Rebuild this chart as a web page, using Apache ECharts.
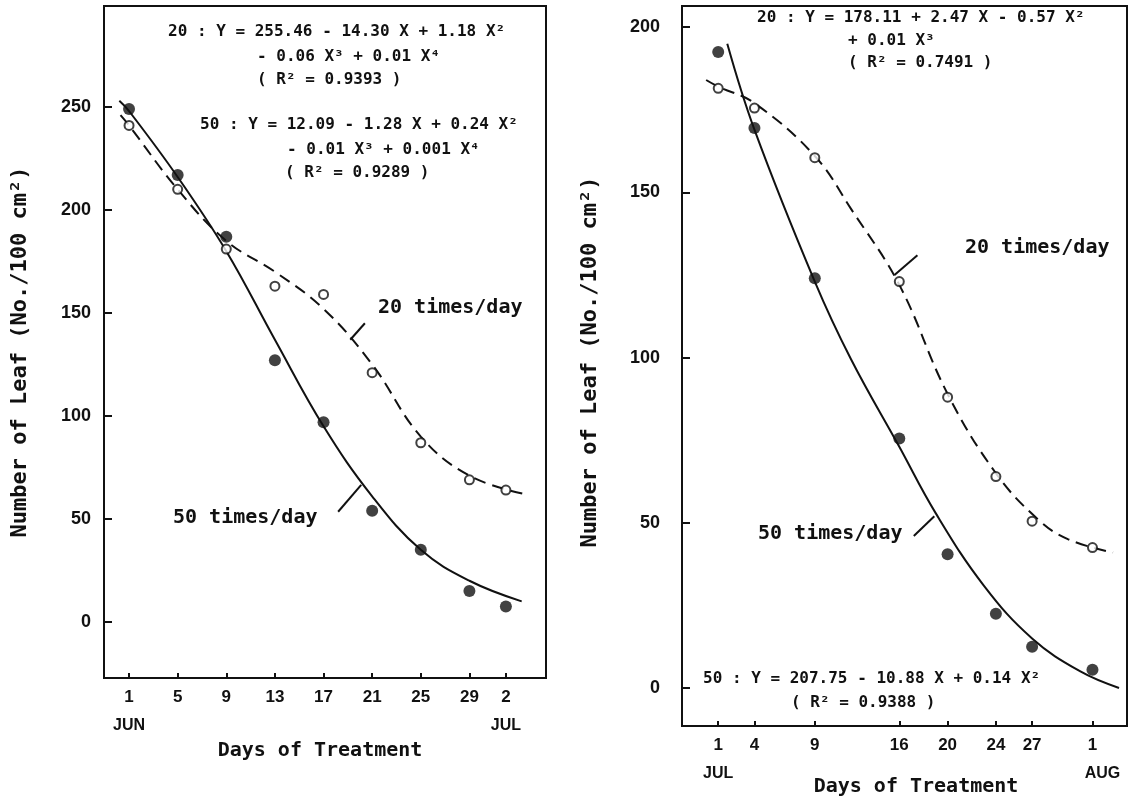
<!DOCTYPE html>
<html>
<head>
<meta charset="utf-8">
<script src="https://cdn.jsdelivr.net/npm/echarts@6/dist/echarts.min.js"></script>
<style>
  html, body { margin: 0; padding: 0; background: #fff; }
  #chart { width: 1135px; height: 799px; }
</style>
</head>
<body>
<div id="chart"></div>
<script>
// left panel: days counted from 1 JUN (0) to 2 JUL (31)
const leftDays = [0, 4, 8, 12, 16, 20, 24, 28, 31];
const left50 = [249, 217, 187, 127, 97, 54, 35, 15, 7.5];
const left20 = [241, 210, 181, 163, 159, 121, 87, 69, 64];
// fitted curves
const leftFit50 = [[-0.8, 253], [0, 248], [4, 216], [8, 180], [12, 137], [16, 95], [20, 61], [24, 35], [28, 20], [32.3, 10]];
const leftFit20 = [[-0.7, 246], [0, 241], [4, 210], [8, 185], [12, 170], [16, 152], [20, 125], [24, 90], [28, 71], [32.6, 62]];
const leftTickDays = [0, 4, 8, 12, 16, 20, 24, 28, 31];
const leftTickLabels = ['1', '5', '9', '13', '17', '21', '25', '29', '2'];
const leftYTicks = [0, 50, 100, 150, 200, 250];

// right panel: days counted from 1 JUL (0) to 1 AUG (31)
const rightDays = [0, 3, 8, 15, 19, 23, 26, 31];
const right50 = [192.5, 169.5, 124, 75.5, 40.5, 22.5, 12.5, 5.5];
const right20 = [181.5, 175.5, 160.5, 123, 88, 64, 50.5, 42.5];
const rightFit50 = [[0.75, 195], [3, 169], [8, 123], [11, 99.5], [15, 73], [18, 53], [22, 31], [26, 15], [30, 5], [33.2, 0]];
const rightFit20 = [[-1, 184], [0, 182], [3, 177], [8, 161], [11, 145], [15, 122], [19, 89], [23, 65], [26.5, 51], [29, 45], [32.7, 41]];
const rightTickDays = [0, 3, 8, 15, 19, 23, 26, 31];
const rightTickLabels = ['1', '4', '9', '16', '20', '24', '27', '1'];
const rightYTicks = [0, 50, 100, 150, 200];

// label pointer lines (data units)
const leftLead20 = [[19.4, 145], [18.2, 137]];
const leftLead50 = [[17.2, 53.5], [19.1, 66.5]];
const rightLead20 = [[16.5, 131], [14.6, 125]];
const rightLead50 = [[16.2, 46], [17.9, 52]];

const ink = '#111';
const mono = '"DejaVu Sans Mono", monospace';
const sans = '"Liberation Sans", Arial, sans-serif';

function pairs(xs, ys) {
  return xs.map((x, i) => [x, ys[i]]);
}

function xLabel(ticks, labels, months) {
  return function (v) {
    const i = ticks.indexOf(v);
    if (i < 0) return '';
    const m = months[v];
    if (m) return '{d|' + labels[i] + '}\n{' + m[1] + '|' + m[0] + '}';
    return '{d|' + labels[i] + '}';
  };
}

const tickRich = {
  d: { fontSize: 17, fontWeight: 'bold', fontFamily: sans, color: ink, lineHeight: 20 },
  m: { fontSize: 16, fontWeight: 'bold', fontFamily: sans, color: ink, lineHeight: 38 },
  r: { fontSize: 16, fontWeight: 'bold', fontFamily: sans, color: ink, lineHeight: 38, padding: [0, 0, 0, 20] }
};

function xAxisCfg(grid, min, max, ticks, labels, months) {
  return {
    type: 'value', gridIndex: grid, min: min, max: max,
    axisLine: { show: true, onZero: false, lineStyle: { color: ink, width: 2 } },
    axisTick: { show: true, inside: true, length: 5, customValues: ticks, lineStyle: { color: ink, width: 2 } },
    axisLabel: { customValues: ticks, margin: 9, formatter: xLabel(ticks, labels, months), rich: tickRich },
    splitLine: { show: false }
  };
}

function yAxisCfg(grid, min, max, ticks, margin) {
  return {
    type: 'value', gridIndex: grid, min: min, max: max,
    axisLine: { show: true, onZero: false, lineStyle: { color: ink, width: 2 } },
    axisTick: { show: true, inside: true, length: 8, customValues: ticks, lineStyle: { color: ink, width: 2 } },
    axisLabel: { customValues: ticks, margin: margin, fontSize: 18, fontWeight: 'bold', fontFamily: sans, color: ink },
    splitLine: { show: false }
  };
}

function fitLine(idx, data, dashed) {
  return {
    type: 'line', xAxisIndex: idx, yAxisIndex: idx, data: data,
    smooth: 0.4, showSymbol: false, silent: true, z: 2,
    lineStyle: { color: ink, width: 2, type: dashed ? [12, 7] : 'solid' }
  };
}

function dots(idx, data, open) {
  return {
    type: 'scatter', xAxisIndex: idx, yAxisIndex: idx, data: data, z: 3,
    symbol: 'circle',
    symbolSize: open ? 9 : 12,
    itemStyle: open ? { color: '#fff', borderColor: ink, borderWidth: 2 } : { color: ink }
  };
}

function lead(idx, data) {
  return {
    type: 'line', xAxisIndex: idx, yAxisIndex: idx, data: data,
    showSymbol: false, silent: true, lineStyle: { color: ink, width: 2 }
  };
}

function txt(s, x, y, size, opts) {
  opts = opts || {};
  return {
    type: 'text', x: x, y: y, rotation: opts.rot || 0,
    style: {
      text: s, fill: ink, align: opts.align || 'left', verticalAlign: 'middle',
      font: (opts.weight || 'bold') + ' ' + size + 'px ' + (opts.family || mono)
    }
  };
}

const eq = 16;
const lab = 20;

const option = {
  backgroundColor: '#fff',
  animation: false,
  grid: [
    { left: 104, top: 6, width: 442, height: 672, show: true, borderColor: ink, borderWidth: 2 },
    { left: 682, top: 6, width: 445, height: 720, show: true, borderColor: ink, borderWidth: 2 }
  ],
  xAxis: [
    xAxisCfg(0, -2.06, 34.3, leftTickDays, leftTickLabels, { 0: ['JUN', 'm'], 31: ['JUL', 'm'] }),
    xAxisCfg(1, -3.0, 33.86, rightTickDays, rightTickLabels, { 0: ['JUL', 'm'], 31: ['AUG', 'r'] })
  ],
  yAxis: [
    yAxisCfg(0, -27.2, 299, leftYTicks, 13),
    yAxisCfg(1, -11.5, 206.4, rightYTicks, 22)
  ],
  series: [
    fitLine(0, leftFit50, false),
    fitLine(0, leftFit20, true),
    dots(0, pairs(leftDays, left50), false),
    dots(0, pairs(leftDays, left20), true),
    lead(0, leftLead20),
    lead(0, leftLead50),
    fitLine(1, rightFit50, false),
    fitLine(1, rightFit20, true),
    dots(1, pairs(rightDays, right50), false),
    dots(1, pairs(rightDays, right20), true),
    lead(1, rightLead20),
    lead(1, rightLead50)
  ],
  graphic: [
    txt('20 : Y = 255.46 - 14.30 X + 1.18 X²', 168, 32, eq),
    txt('- 0.06 X³ + 0.01 X⁴', 257, 57, eq),
    txt('( R² = 0.9393 )', 257, 80, eq),
    txt('50 : Y = 12.09 - 1.28 X + 0.24 X²', 200, 125, eq),
    txt('- 0.01 X³ + 0.001 X⁴', 287, 150, eq),
    txt('( R² = 0.9289 )', 285, 173, eq),
    txt('20 times/day', 378, 308, lab),
    txt('50 times/day', 173, 518, lab),
    txt('Days of Treatment', 320, 751, lab, { align: 'center' }),
    txt('Number of Leaf (No./100 cm²)', 20, 352, 22, { align: 'center', rot: Math.PI / 2 }),

    txt('20 : Y = 178.11 + 2.47 X - 0.57 X²', 757, 18, eq),
    txt('+ 0.01 X³', 848, 41, eq),
    txt('( R² = 0.7491 )', 848, 63, eq),
    txt('50 : Y = 207.75 - 10.88 X + 0.14 X²', 703, 679, eq),
    txt('( R² = 0.9388 )', 791, 703, eq),
    txt('20 times/day', 965, 248, lab),
    txt('50 times/day', 758, 534, lab),
    txt('Days of Treatment', 916, 787, lab, { align: 'center' }),
    txt('Number of Leaf (No./100 cm²)', 590, 362, 22, { align: 'center', rot: Math.PI / 2 })
  ]
};

const chart = echarts.init(document.getElementById('chart'), null, { renderer: 'canvas' });
chart.setOption(option);
</script>
</body>
</html>
